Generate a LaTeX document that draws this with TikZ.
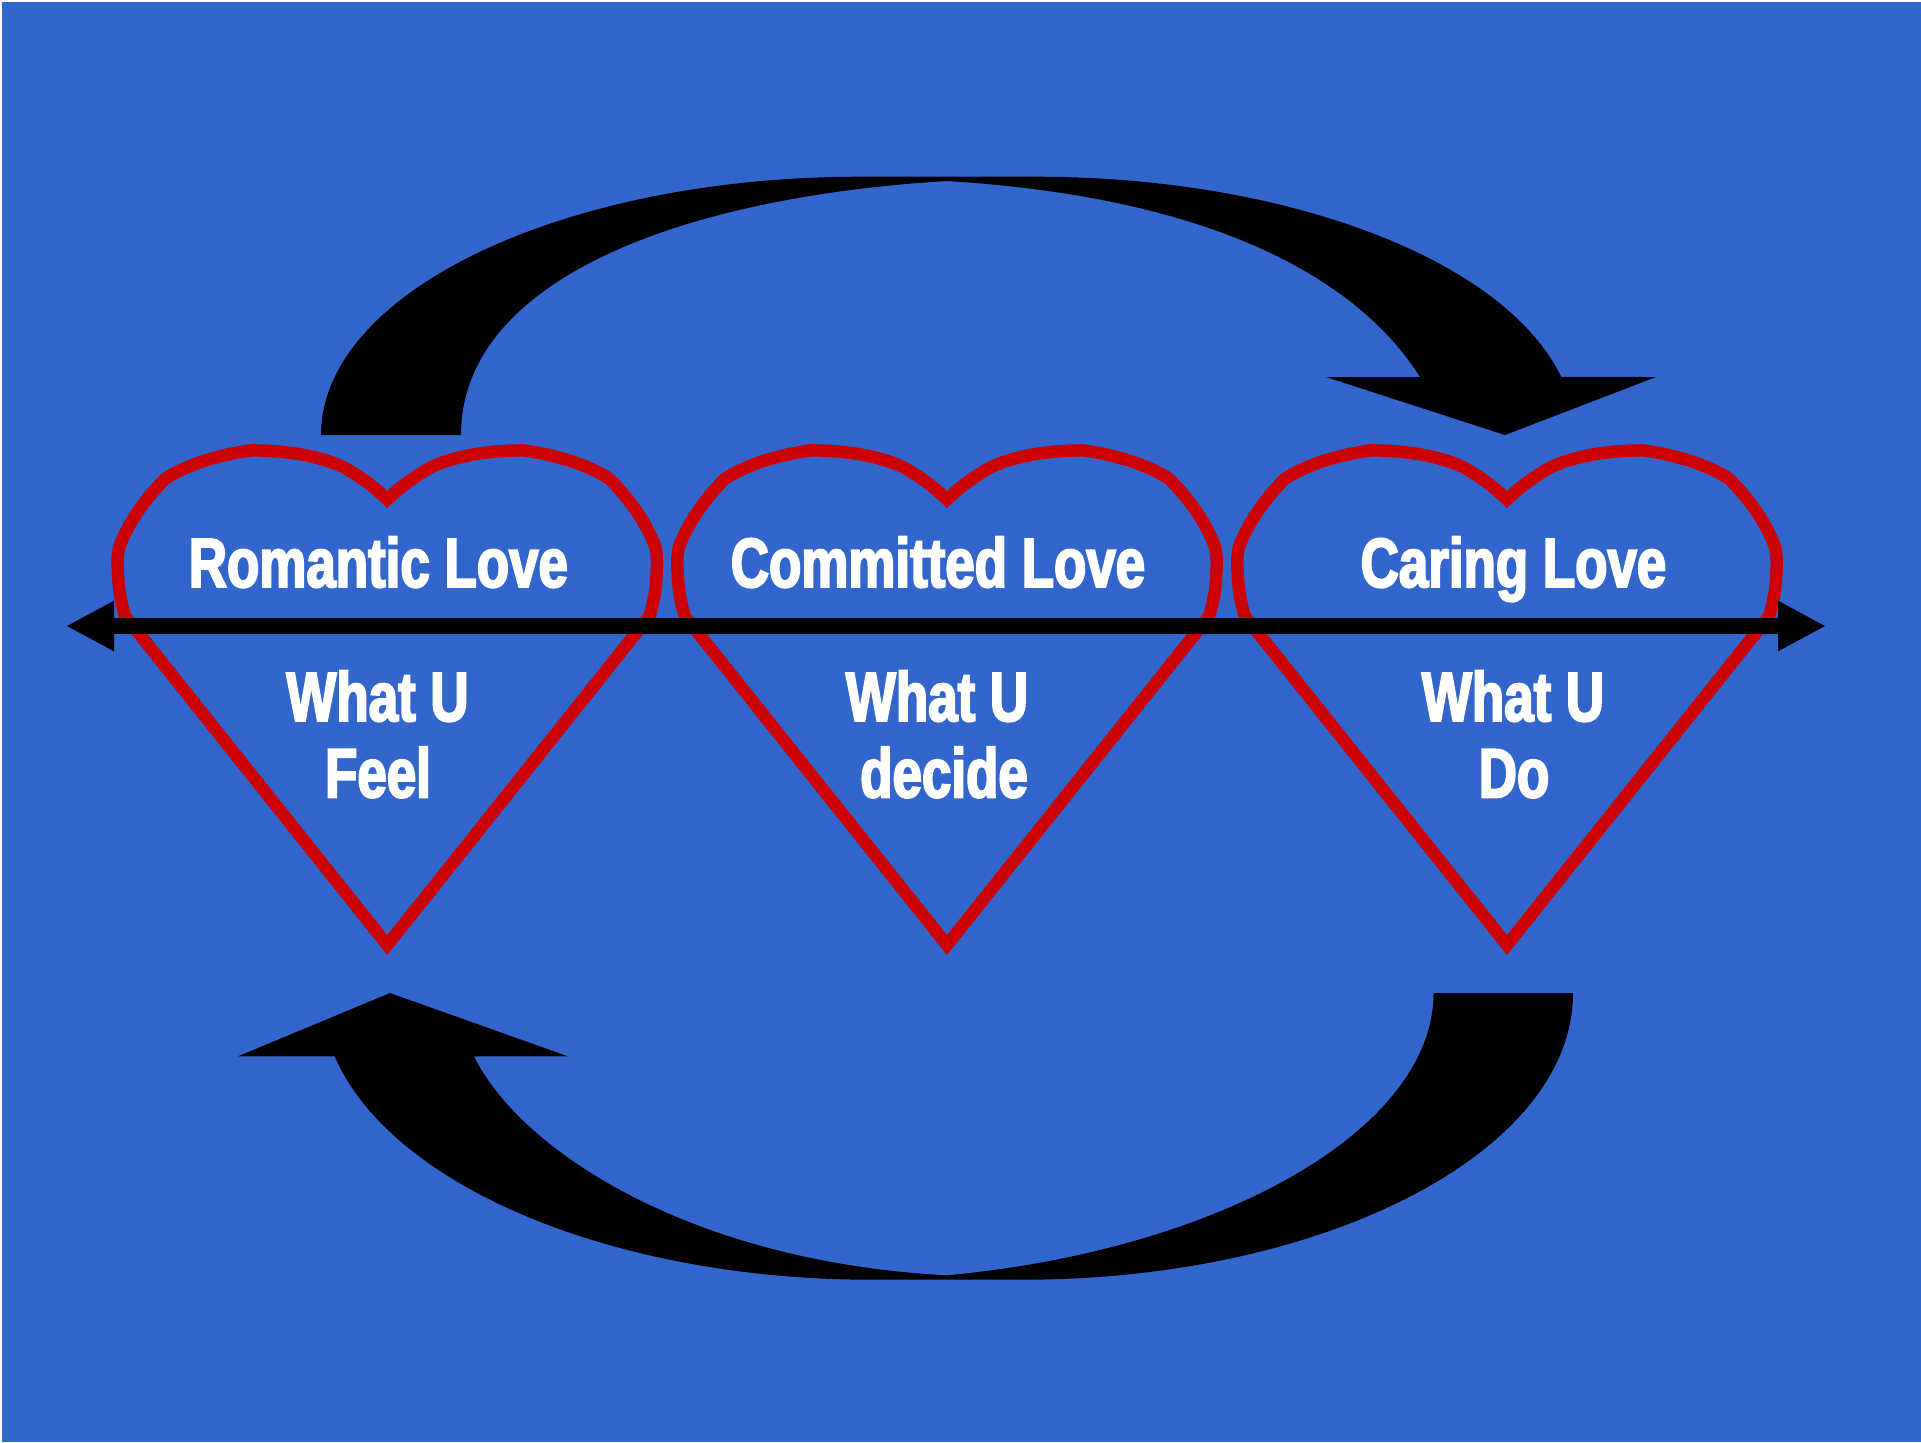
\documentclass[tikz,border=0pt]{standalone}
\usepackage{fontspec}
\usetikzlibrary{arrows.meta}
\newfontfamily\heavyfont{Liberation Sans}[UprightFont=* Bold,FakeStretch=.76,FakeBold=2.8]
\definecolor{bgblue}{HTML}{3366CC}
\definecolor{heartred}{HTML}{CC0000}
\begin{document}
\begin{tikzpicture}[x=.5pt,y=-.5pt,
        heartline/.style={draw=heartred, line width=6.2pt},
        bigarrow/.style={fill=black},
        lovetext/.style={text=white, inner sep=0pt, anchor=base, font=\heavyfont\fontsize{34.8}{36}\selectfont},
        axis/.style={line width=8.4pt, {Triangle[length=24pt,width=23.4pt]}-{Triangle[length=24pt,width=23.4pt]}}]
        \useasboundingbox (0,0) rectangle (1921,1442);
        \fill[bgblue] (2,2) rectangle (1921,1442);

        % hearts
        \foreach \cx in {387.3,947,1507} {
            \draw[heartline, shift={(\cx,0)}]
                (0,499.5) .. controls (-16,484) and (-30,475) .. (-44.5,466.8)
                .. controls (-68,456) and (-100,450.4) .. (-136,450.4)
                .. controls (-165,454) and (-200,464) .. (-222.4,479)
                .. controls (-240,497) and (-258,520) .. (-268,546.8)
                .. controls (-270,555) and (-270,563) .. (-269.4,571.8)
                .. controls (-269,586) and (-267,601) .. (-262,616.4)
                -- (0,945) -- (262,616.4)
                .. controls (267,601) and (269,586) .. (269.4,571.8)
                .. controls (270,563) and (270,555) .. (268,546.8)
                .. controls (258,520) and (240,497) .. (222.4,479)
                .. controls (200,464) and (165,454) .. (136,450.4)
                .. controls (100,450.4) and (68,456) .. (44.5,466.8)
                .. controls (30,475) and (16,484) .. (0,499.5) -- cycle;
        }

        % arrows round the hearts
        \fill[bigarrow] (321,435) arc[start angle=180, end angle=90, x radius=269.5pt, y radius=129.15pt]
            -- (1036,176.7) arc[start angle=90, end angle=13, x radius=269.5pt, y radius=129.15pt]
            -- (1656,377) -- (1505,435) -- (1326,377) -- (1420,377)
            .. controls (1362,285) and (1225,198) .. (947,181)
            .. controls (680,197) and (461,280) .. (461,435) -- cycle;
        \fill[bigarrow] (1573,993) arc[start angle=0, end angle=-90, x radius=275.5pt, y radius=143.35pt]
            -- (872,1279.7) arc[start angle=270, end angle=192.76, x radius=275.5pt, y radius=143.35pt]
            -- (238,1056.3) -- (390,993) -- (568,1056.3) -- (474,1056.3)
            .. controls (520,1150) and (690,1262) .. (947,1275.3)
            .. controls (1220,1250) and (1433.5,1130) .. (1433.5,993) -- cycle;

        \coordinate (axisl) at (66,626);
        \coordinate (axisr) at (1826,626);
        \draw[axis] (axisl) -- (axisr);

        \node[lovetext] (romantic) at (378.4,587) {Romantic Love};
        \node[lovetext] (committed) at (938,587) {Committed Love};
        \node[lovetext] (caring) at (1513.5,587) {Caring Love};
        \node[lovetext] (what1) at (377.5,721) {What U};
        \node[lovetext] (what2) at (937,721) {What U};
        \node[lovetext] (what3) at (1513,721) {What U};
        \node[lovetext] (feel) at (378,797.3) {Feel};
        \node[lovetext] (decide) at (944,797.3) {decide};
        \node[lovetext] (do) at (1514,797.3) {Do};
\end{tikzpicture}
\end{document}
